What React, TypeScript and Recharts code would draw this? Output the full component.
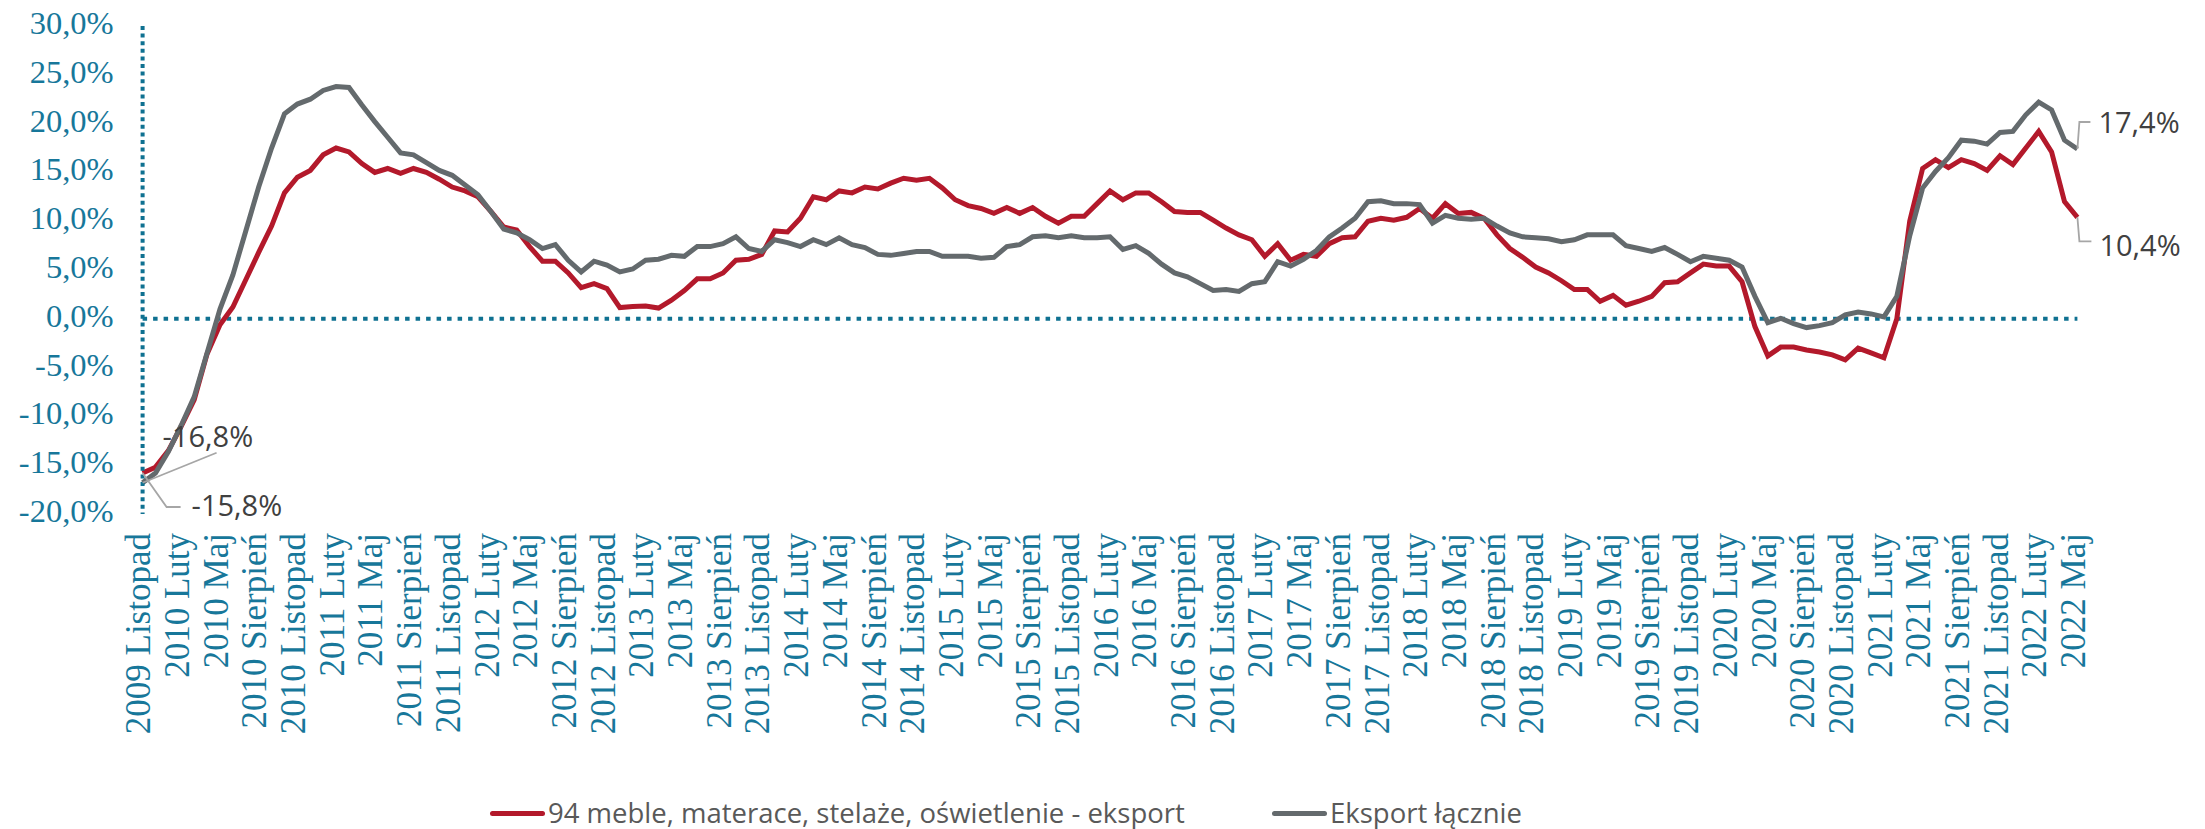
import React from 'react';
import { LineChart, Line, XAxis, YAxis, ReferenceLine, LabelList } from 'recharts';

const MONTHS = ['Styczeń', 'Luty', 'Marzec', 'Kwiecień', 'Maj', 'Czerwiec', 'Lipiec', 'Sierpień', 'Wrzesień', 'Październik', 'Listopad', 'Grudzień'];
const START_YEAR = 2009;
const START_MONTH = 10; // Listopad

const SERIES_NAMES = ['94 meble, materace, stelaże, oświetlenie - eksport', 'Eksport łącznie'];

const meble = [
  -15.8, -15.2, -13.5, -11.0, -8.3, -3.6, -0.6, 1.2, 4.0, 6.8,
  9.5, 12.9, 14.5, 15.2, 16.8, 17.5, 17.1, 15.9, 15.0, 15.4,
  14.9, 15.4, 15.0, 14.3, 13.5, 13.1, 12.5, 11.0, 9.4, 9.1,
  7.4, 5.9, 5.9, 4.7, 3.2, 3.6, 3.1, 1.15, 1.25, 1.3,
  1.1, 1.9, 2.9, 4.1, 4.1, 4.7, 6.0, 6.1, 6.6, 9.0,
  8.9, 10.3, 12.5, 12.2, 13.1, 12.9, 13.5, 13.3, 13.9, 14.4,
  14.2, 14.4, 13.4, 12.2, 11.6, 11.3, 10.8, 11.4, 10.8, 11.4,
  10.5, 9.8, 10.5, 10.5, 11.8, 13.1, 12.2, 12.9, 12.9, 12.0,
  11.0, 10.9, 10.9, 10.1, 9.3, 8.6, 8.1, 6.4, 7.7, 6.0,
  6.6, 6.4, 7.7, 8.3, 8.4, 10.0, 10.3, 10.1, 10.4, 11.3,
  10.3, 11.8, 10.8, 10.9, 10.3, 8.6, 7.2, 6.3, 5.3, 4.7,
  3.9, 3.0, 3.0, 1.8, 2.4, 1.4, 1.8, 2.3, 3.7, 3.8,
  4.7, 5.6, 5.4, 5.4, 3.8, -0.8, -3.8, -2.9, -2.9, -3.2,
  -3.4, -3.7, -4.2, -3.0, -3.5, -4.0, 0.0, 10.0, 15.4, 16.3,
  15.5, 16.3, 15.9, 15.2, 16.7, 15.8, 17.5, 19.2, 17.1, 12.0,
  10.4,
];

const lacznie = [
  -16.8, -15.8, -13.6, -10.9, -8.0, -3.5, 1.0, 4.5, 9.0, 13.5,
  17.5, 21.0, 22.0, 22.5, 23.4, 23.8, 23.7, 21.9, 20.2, 18.6,
  17.0, 16.8, 16.0, 15.2, 14.7, 13.7, 12.7, 11.0, 9.2, 8.8,
  8.1, 7.2, 7.6, 6.0, 4.8, 5.9, 5.5, 4.8, 5.1, 6.0,
  6.1, 6.5, 6.4, 7.4, 7.4, 7.7, 8.4, 7.2, 6.9, 8.1,
  7.8, 7.4, 8.1, 7.6, 8.3, 7.6, 7.3, 6.6, 6.5, 6.7,
  6.9, 6.9, 6.4, 6.4, 6.4, 6.2, 6.3, 7.4, 7.6, 8.4,
  8.5, 8.3, 8.5, 8.3, 8.3, 8.4, 7.1, 7.5, 6.7, 5.6,
  4.7, 4.3, 3.6, 2.9, 3.0, 2.8, 3.6, 3.8, 5.85, 5.4,
  6.1, 7.0, 8.4, 9.3, 10.3, 12.0, 12.1, 11.8, 11.8, 11.7,
  9.8, 10.6, 10.3, 10.2, 10.3, 9.5, 8.8, 8.4, 8.3, 8.2,
  7.9, 8.1, 8.6, 8.6, 8.6, 7.5, 7.2, 6.9, 7.3, 6.6,
  5.85, 6.4, 6.2, 6.0, 5.3, 2.3, -0.4, 0.05, -0.5, -0.9,
  -0.7, -0.4, 0.4, 0.7, 0.5, 0.2, 2.3, 8.5, 13.4, 15.1,
  16.5, 18.3, 18.2, 17.9, 19.1, 19.2, 20.9, 22.2, 21.4, 18.3,
  17.4,
];

const Y_TICKS = [-20, -15, -10, -5, 0, 5, 10, 15, 20, 25, 30];

const categories = meble.map((_, i) => {
  const m = START_MONTH + i;
  return `${START_YEAR + Math.floor(m / 12)} ${MONTHS[m % 12]}`;
});

const data = categories.map((label, i) => ({ label, meble: meble[i], lacznie: lacznie[i] }));

const RED = '#B3192B';
const GRAY = '#646A6D';
const TEAL_TEXT = '#17779A';
const TEAL_LINE = '#0F7191';
const LEADER = '#A6A6A6';
const LABEL_TEXT = '#404040';
const LEGEND_TEXT = '#595959';

const fmt = (v: number) => `${v.toFixed(1).replace('.', ',')}%`;
const LAST = meble.length - 1;

const XTick = (props: any) => {
  const { x, y, payload } = props;
  return (
    <text
      transform={`translate(${x + 7.7},${y + 19}) rotate(-90)`}
      textAnchor="end"
      fontFamily="'Liberation Serif', serif"
      fontSize={35}
      fill={TEAL_TEXT}
    >
      {payload.value}
    </text>
  );
};

const YTick = (props: any) => {
  const { x, y, payload } = props;
  return (
    <text x={x} y={y + 8} textAnchor="end" fontFamily="'Liberation Serif', serif" fontSize={32.5} fill={TEAL_TEXT}>
      {fmt(payload.value)}
    </text>
  );
};

const getXY = (p: any) => {
  const x = p.x ?? p.viewBox?.x ?? p.cx;
  const y = p.y ?? p.viewBox?.y ?? p.cy;
  return { x, y };
};

const labelTextProps = {
  fontFamily: "'Open Sans', sans-serif",
  fontSize: 29,
  fill: LABEL_TEXT,
};

const RedLabel = (p: any) => {
  const { index, value } = p;
  const { x, y } = getXY(p);
  if (index === 0) {
    return (
      <g>
        <polyline points={`${x},${y} ${x + 24},${y + 34} ${x + 38},${y + 34}`} fill="none" stroke={LEADER} strokeWidth={1.8} />
        <text x={x + 49} y={y + 43} {...labelTextProps}>{fmt(value)}</text>
      </g>
    );
  }
  if (index === LAST) {
    return (
      <g>
        <polyline points={`${x},${y} ${x + 2},${y + 24} ${x + 14},${y + 24}`} fill="none" stroke={LEADER} strokeWidth={1.8} />
        <text x={x + 22} y={y + 39} {...labelTextProps}>{fmt(value)}</text>
      </g>
    );
  }
  return null;
};

const GrayLabel = (p: any) => {
  const { index, value } = p;
  const { x, y } = getXY(p);
  if (index === 0) {
    return (
      <g>
        <polyline points={`${x},${y} ${x + 74},${y - 30}`} fill="none" stroke={LEADER} strokeWidth={1.8} />
        <text x={x + 20} y={y - 36} {...labelTextProps}>{fmt(value)}</text>
      </g>
    );
  }
  if (index === LAST) {
    return (
      <g>
        <polyline points={`${x},${y} ${x + 2},${y - 27} ${x + 13},${y - 27}`} fill="none" stroke={LEADER} strokeWidth={1.8} />
        <text x={x + 21} y={y - 16} {...labelTextProps}>{fmt(value)}</text>
      </g>
    );
  }
  return null;
};

const legendItems = [
  { name: SERIES_NAMES[0], color: RED, left: 490 },
  { name: SERIES_NAMES[1], color: GRAY, left: 1272 },
];

export default function App() {
  return (
    <div style={{ position: 'absolute', left: 0, top: 0, width: 2205, height: 829, background: '#fff' }}>
      <LineChart
        width={2205}
        height={829}
        data={data}
        margin={{ top: 26, right: 127.6, bottom: 0, left: 0 }}
      >
        <XAxis
          dataKey="label"
          interval={2}
          axisLine={false}
          tickLine={false}
          tickSize={0}
          tickMargin={0}
          height={315}
          tick={<XTick />}
        />
        <YAxis
          domain={[-20, 30]}
          ticks={Y_TICKS}
          width={142.6}
          tickLine={false}
          tickSize={0}
          tickMargin={29}
          axisLine={{ stroke: TEAL_LINE, strokeWidth: 4, strokeDasharray: '4 3.6' }}
          tick={<YTick />}
          allowDataOverflow
        />
        <ReferenceLine y={0} stroke={TEAL_LINE} strokeWidth={4} strokeDasharray="4.5 6" />
        <Line
          type="linear"
          dataKey="meble"
          name={SERIES_NAMES[0]}
          stroke={RED}
          strokeWidth={5}
          dot={false}
          activeDot={false}
          isAnimationActive={false}
        >
          <LabelList dataKey="meble" content={<RedLabel />} />
        </Line>
        <Line
          type="linear"
          dataKey="lacznie"
          name={SERIES_NAMES[1]}
          stroke={GRAY}
          strokeWidth={5}
          dot={false}
          activeDot={false}
          isAnimationActive={false}
        >
          <LabelList dataKey="lacznie" content={<GrayLabel />} />
        </Line>
      </LineChart>
      {legendItems.map((it) => (
        <div
          key={it.name}
          style={{ position: 'absolute', left: it.left, top: 797, height: 32, display: 'flex', alignItems: 'center' }}
        >
          <div style={{ width: 55, height: 5, background: it.color, borderRadius: 3 }} />
          <span
            style={{
              marginLeft: 3,
              fontFamily: "'Open Sans', sans-serif",
              fontSize: 27.5,
              color: LEGEND_TEXT,
              whiteSpace: 'nowrap',
              lineHeight: '32px',
            }}
          >
            {it.name}
          </span>
        </div>
      ))}
    </div>
  );
}
